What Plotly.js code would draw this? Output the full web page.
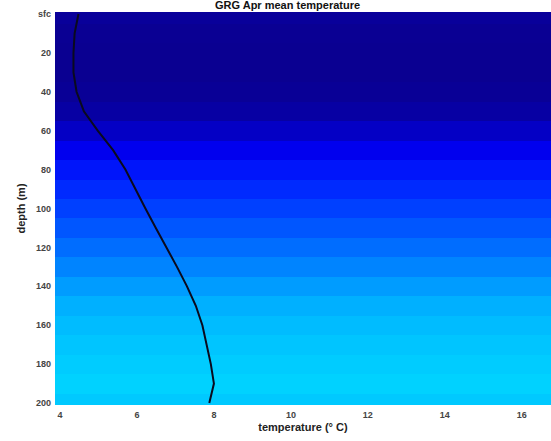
<!DOCTYPE html>
<html>
<head>
<meta charset="utf-8">
<script src="https://cdn.plot.ly/plotly-3.0.1.min.js"></script>
<style>html,body{margin:0;padding:0;background:#fff;}#chart{width:551px;height:441px;}</style>
</head>
<body>
<div id="chart"></div>
<script>
var depths = [0,10,20,30,40,50,60,70,80,90,100,110,120,130,140,150,160,170,180,190,200];
var temps  = [4.48,4.38,4.35,4.35,4.43,4.62,4.98,5.38,5.70,5.95,6.22,6.49,6.77,7.04,7.30,7.53,7.70,7.82,7.92,8.00,7.88];
var yTickVals = [0,20,40,60,80,100,120,140,160,180,200];
var yTickText = ['sfc','20','40','60','80','100','120','140','160','180','200'];
var xTickVals = [4,6,8,10,12,14,16];
var xRange = [3.87, 16.76];

var bgZ = temps.map(function(t){ return [t, t]; });

var traces = [
  {
    type: 'heatmap',
    x: xRange,
    y: depths,
    z: bgZ,
    zmin: 4.35, zmax: 8.0,
    zsmooth: false,
    showscale: false,
    hoverinfo: 'skip',
    colorscale: [
      [0, 'rgb(10,0,145)'],
      [0.1, 'rgb(6,0,170)'],
      [0.3, 'rgb(0,0,245)'],
      [0.45, 'rgb(0,45,255)'],
      [0.7, 'rgb(0,120,255)'],
      [0.85, 'rgb(0,170,255)'],
      [1, 'rgb(0,210,255)']
    ]
  },
  {
    type: 'scatter',
    mode: 'lines',
    x: temps,
    y: depths,
    line: {color: '#0a0a1e', width: 2},
    hoverinfo: 'skip'
  }
];

var tickFont = {family: 'Liberation Sans, Arial, sans-serif', size: 9, color: '#444', weight: 'bold'};
var layout = {
  width: 551, height: 441,
  margin: {l: 55, r: 0, t: 12, b: 36},
  paper_bgcolor: '#fff',
  plot_bgcolor: '#fff',
  showlegend: false,
  xaxis: {
    range: xRange,
    tickvals: xTickVals,
    ticks: '',
    showgrid: false, zeroline: false, showline: false,
    tickfont: tickFont,
    ticklabelstandoff: 3,
    title: {text: '<b>temperature (° C)</b>', font: {family: 'Liberation Sans, Arial, sans-serif', size: 11, color: '#222'}, standoff: 4}
  },
  yaxis: {
    range: [201, -1],
    tickvals: yTickVals,
    ticktext: yTickText,
    ticks: '',
    showgrid: false, zeroline: false, showline: false,
    tickfont: tickFont,
    ticklabelstandoff: 3,
    title: {text: '<b>depth (m)</b>', font: {family: 'Liberation Sans, Arial, sans-serif', size: 11, color: '#222'}, standoff: 8}
  },
  annotations: [{
    text: '<b>GRG Apr mean temperature</b>',
    xref: 'paper', yref: 'paper',
    x: 0.468, y: 1.0,
    xanchor: 'center', yanchor: 'bottom',
    yshift: -1,
    showarrow: false,
    font: {family: 'Liberation Sans, Arial, sans-serif', size: 11, color: '#111'}
  }]
};

Plotly.newPlot('chart', traces, layout, {displayModeBar: false, staticPlot: true});
</script>
</body>
</html>
